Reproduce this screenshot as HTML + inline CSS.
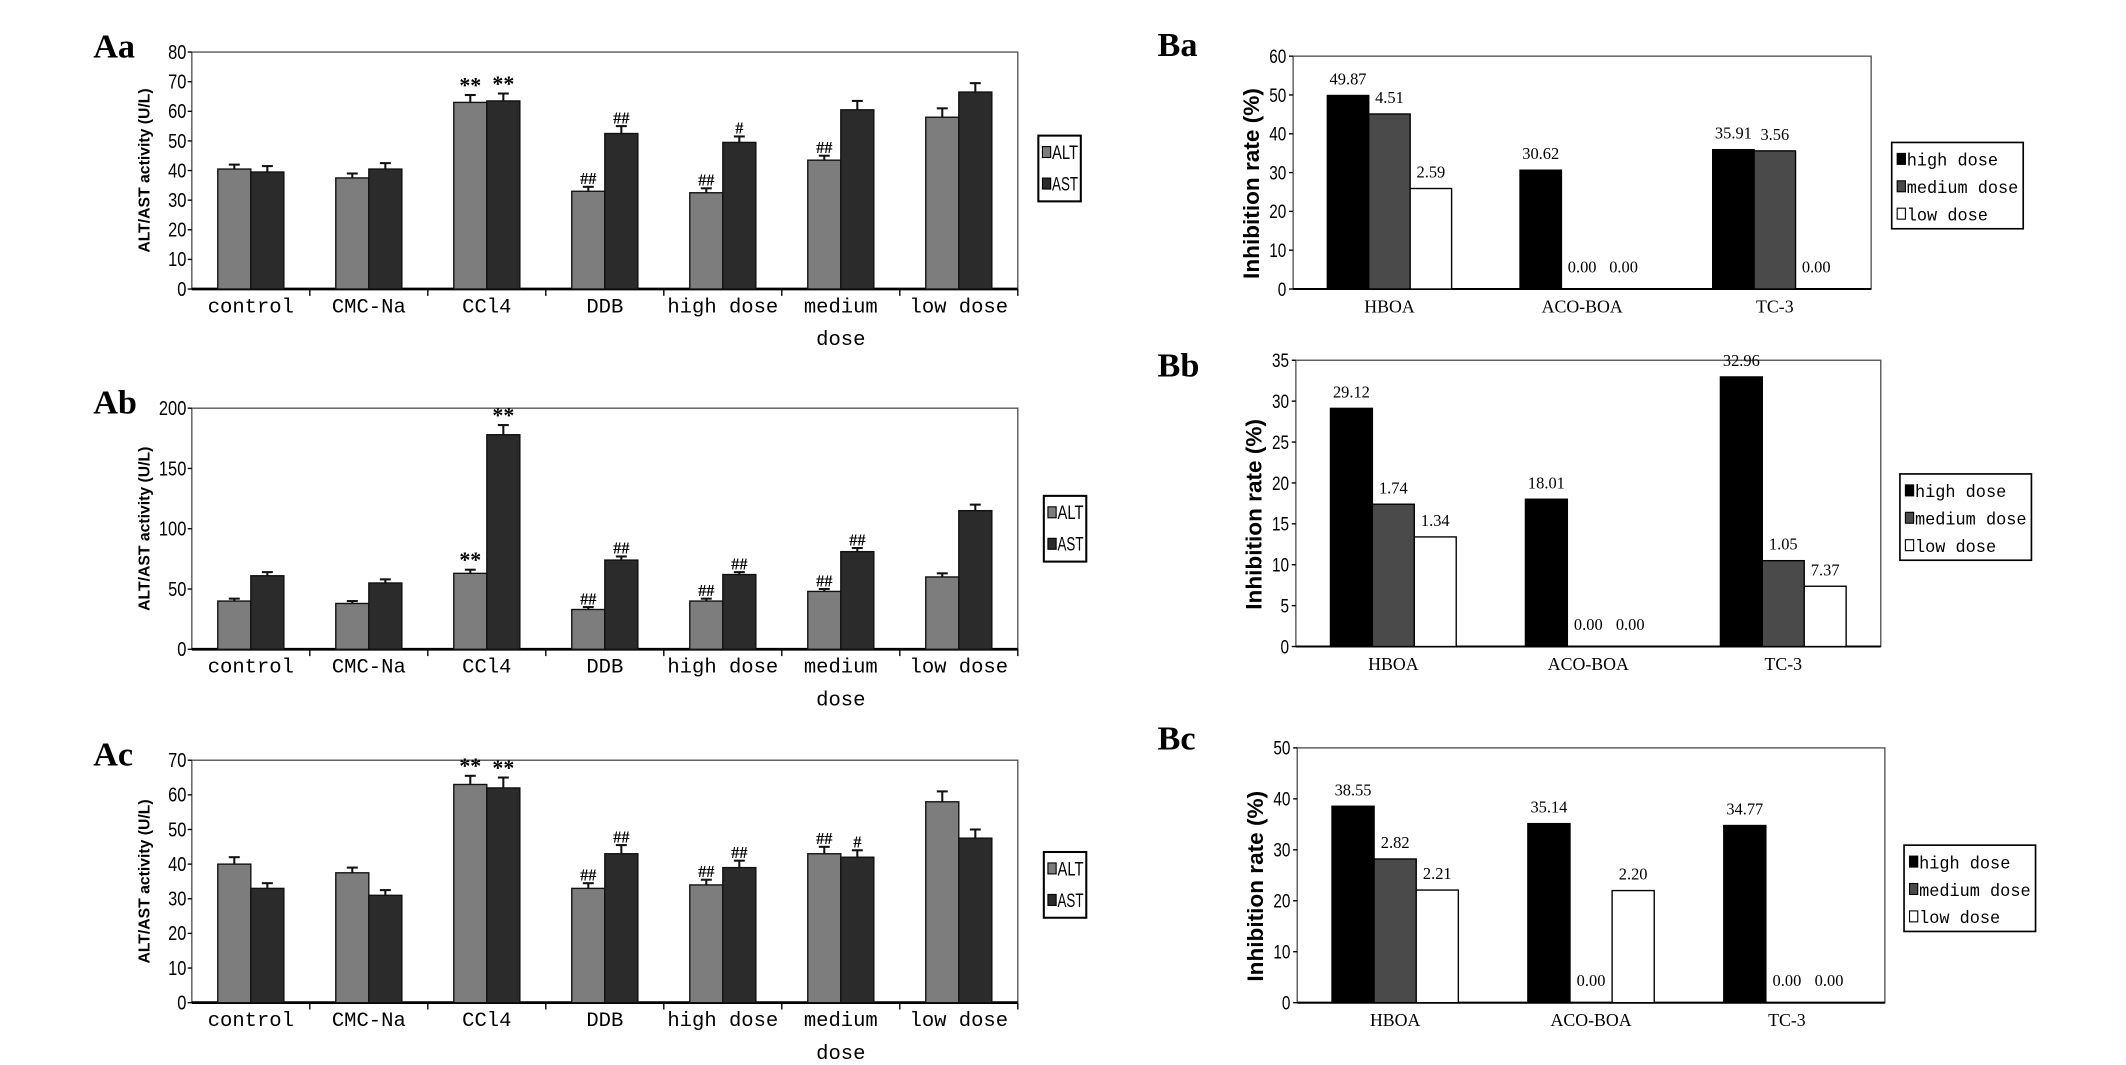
<!DOCTYPE html>
<html><head><meta charset="utf-8">
<style>
html,body{margin:0;padding:0;background:#fff;}
svg{display:block;}
</style></head>
<body>
<svg id="fig" width="2126" height="1065" viewBox="0 0 1552 777.5" font-family="Liberation Mono, DejaVu Sans Mono, monospace" xmlns="http://www.w3.org/2000/svg"></svg>
<script>
// ---- data: panel A (ALT/AST) ----
const aCategories = ["control","CMC-Na","CCl4","DDB","high dose","medium dose","low dose"];
const aaALT = [40.5,37.5,63,33,32.5,43.5,58];
const aaAST = [39.5,40.5,63.5,52.5,49.5,60.5,66.5];
const aaALTerr = [1.5,1.5,2.5,1.5,1.5,1.5,3];
const aaASTerr = [2,2,2.5,2.5,2,3,3];
const aaALTmark = ["","","**","##","##","##",""];
const aaASTmark = ["","","**","##","#","",""];
const aaTicks = [0,10,20,30,40,50,60,70,80];

const abALT = [40,38,63,33,40,48,60];
const abAST = [61,55,178,74,62,81,115];
const abALTerr = [2,2,3,2,2,2,3];
const abASTerr = [3,3,8,3,2,3,5];
const abALTmark = ["","","**","##","##","##",""];
const abASTmark = ["","","**","##","##","##",""];
const abTicks = [0,50,100,150,200];

const acALT = [40,37.5,63,33,34,43,58];
const acAST = [33,31,62,43,39,42,47.5];
const acALTerr = [2,1.5,2.5,1.5,1.5,2,3];
const acASTerr = [1.5,1.5,3,2.5,2,2,2.5];
const acALTmark = ["","","**","##","##","##",""];
const acASTmark = ["","","**","##","##","#",""];
const acTicks = [0,10,20,30,40,50,60,70];

// ---- data: panel B (inhibition rate) ----
const bCategories = ["HBOA","ACO-BOA","TC-3"];
const baHigh = [49.87,30.62,35.91];
const baMed = [45.1,0,35.6];
const baLow = [25.9,0,0];
const baHighLbl = ["49.87","30.62","35.91"];
const baMedLbl = ["4.51","0.00","3.56"];
const baLowLbl = ["2.59","0.00","0.00"];
const baTicks = [0,10,20,30,40,50,60];

const bbHigh = [29.12,18.01,32.96];
const bbMed = [17.4,0,10.5];
const bbLow = [13.4,0,7.37];
const bbHighLbl = ["29.12","18.01","32.96"];
const bbMedLbl = ["1.74","0.00","1.05"];
const bbLowLbl = ["1.34","0.00","7.37"];
const bbTicks = [0,5,10,15,20,25,30,35];

const bcHigh = [38.55,35.14,34.77];
const bcMed = [28.2,0,0];
const bcLow = [22.1,22.0,0];
const bcHighLbl = ["38.55","35.14","34.77"];
const bcMedLbl = ["2.82","0.00","0.00"];
const bcLowLbl = ["2.21","2.20","0.00"];
const bcTicks = [0,10,20,30,40,50];

const NS="http://www.w3.org/2000/svg";
const svg=document.getElementById('fig');
function el(tag,attrs,parent,txt){const e=document.createElementNS(NS,tag);for(const k in attrs)e.setAttribute(k,attrs[k]);if(txt!==undefined)e.textContent=txt;(parent||svg).appendChild(e);return e;}
const NARROW='Liberation Sans Narrow, Liberation Sans, sans-serif';

function panelA(cfg){
  const g=el('g',{});
  
  
  const {x0,x1,y0,y1,max}=cfg;
  const ys=v=>y1-(v/max)*(y1-y0);
  const gw=(x1-x0)/aCategories.length;
  const lab=el('text',{x:68,y:y0+4,'font-family':'Liberation Serif, serif','font-weight':'bold','font-size':25},g,cfg.label);
  
  
  const fr=el('rect',{x:x0,y:y0,width:x1-x0,height:y1-y0,fill:'#fff',stroke:'#555','stroke-width':1},g);
  
  
  cfg.ticks.forEach(t=>{
    const tl=el('text',{x:x0-4,y:ys(t)+5,'text-anchor':'end','font-size':15,'font-family':NARROW,'transform':`translate(${x0-4},0) scale(0.8,1) translate(${-(x0-4)},0)`},g,String(t));
    
    
    el('line',{x1:x0-3,x2:x0,y1:ys(t),y2:ys(t),stroke:'#000'},g);
  });
  const yt=el('text',{x:0,y:0,'text-anchor':'middle','font-family':'Liberation Sans, sans-serif','font-weight':'bold','font-size':11.5,transform:`translate(${x0-31},${(y0+y1)/2}) rotate(-90)`},g,'ALT/AST activity (U/L)');
  
  
  el('line',{x1:x0,x2:x1,y1:y1,y2:y1,stroke:'#000','stroke-width':2},g);
  const bw=gw*0.28;
  aCategories.forEach((c,i)=>{
    const cx=x0+gw*(i+0.5);
    el('line',{x1:x0+gw*(i+1),x2:x0+gw*(i+1),y1:y1,y2:y1+5,stroke:'#000'},g);
    const parts=c==='medium dose'?['medium','dose']:[c];
    parts.forEach((p,k)=>{
      const ct=el('text',{x:cx,y:y1+17+k*24,'text-anchor':'middle','font-size':15},g,p);
      
      
    });
    [[cfg.alt,cfg.altErr,cfg.altMark,'#7d7d7d',cx-bw,'alt'],[cfg.ast,cfg.astErr,cfg.astMark,'#2b2b2b',cx,'ast']].forEach(([vals,errs,marks,col,bx,nm])=>{
      const v=vals[i],top=ys(v),et=ys(v+errs[i]);
      const b=el('rect',{x:bx,y:top,width:bw,height:y1-top,fill:col,stroke:'#111','stroke-width':1},g);
      
      
      el('line',{x1:bx+bw/2,x2:bx+bw/2,y1:top,y2:et,stroke:'#111','stroke-width':1.5},g);
      el('line',{x1:bx+bw/2-4,x2:bx+bw/2+4,y1:et,y2:et,stroke:'#111','stroke-width':1.5},g);
      if(marks[i]){
        const m=el('text',{x:bx+bw/2,y:et-2,'text-anchor':'middle','font-size':marks[i].startsWith('*')?16:12,'font-weight':'bold','font-family':'Liberation Serif, serif'},g,marks[i]);
        
        
      }
    });
  });
  const lg=el('g',{},g);
  
  
  const lx=cfg.lx,ly=cfg.ly;
  el('rect',{x:lx,y:ly,width:31,height:48,fill:'#fff',stroke:'#000','stroke-width':1.5},lg);
  [['ALT','#7d7d7d'],['AST','#2b2b2b']].forEach(([n,c],k)=>{
    el('rect',{x:lx+3,y:ly+8+k*23,width:6,height:8,fill:c,stroke:'#000','stroke-width':0.8},lg);
    const t=el('text',{x:lx+10,y:ly+17+k*23,'font-size':14,'font-family':NARROW,textLength:19,lengthAdjust:'spacingAndGlyphs'},lg,n);
    
    
  });
}

function panelB(cfg){
  const g=el('g',{});
  
  
  const {x0,x1,y0,y1,max}=cfg;
  const ys=v=>y1-(v/max)*(y1-y0);
  const gw=(x1-x0)/bCategories.length;
  const lab=el('text',{x:845,y:cfg.labY,'font-family':'Liberation Serif, serif','font-weight':'bold','font-size':25},g,cfg.label);
  
  
  const fr=el('rect',{x:x0,y:y0,width:x1-x0,height:y1-y0,fill:'#fff',stroke:'#555','stroke-width':1},g);
  
  
  cfg.ticks.forEach(t=>{
    const tl=el('text',{x:x0-5,y:ys(t)+5,'text-anchor':'end','font-size':14,'font-family':NARROW,'transform':`translate(${x0-5},0) scale(0.8,1) translate(${-(x0-5)},0)`},g,String(t));
    
    
    el('line',{x1:x0-3,x2:x0,y1:ys(t),y2:ys(t),stroke:'#000'},g);
  });
  const yt=el('text',{x:0,y:0,'text-anchor':'middle','font-family':'Liberation Sans, sans-serif','font-weight':'bold','font-size':16.5,transform:`translate(${x0-25},${(y0+y1)/2+8}) rotate(-90)`},g,'Inhibition rate (%)');
  
  
  el('line',{x1:x0,x2:x1,y1:y1,y2:y1,stroke:'#000','stroke-width':1.5},g);
  const bw=gw*0.215;
  bCategories.forEach((c,i)=>{
    const cx=x0+gw*(i+0.5);
    const ct=el('text',{x:cx,y:y1+17,'text-anchor':'middle','font-size':13,'font-family':'Liberation Serif, serif'},g,c);
    
    
    [[cfg.high,cfg.highL,'#000'],[cfg.med,cfg.medL,'#4a4a4a'],[cfg.low,cfg.lowL,'#fff']].forEach(([vals,lbls,col],k)=>{
      const bx=cx-1.5*bw+k*bw,v=vals[i],top=ys(v);
      if(v>0){
        const b=el('rect',{x:bx,y:top,width:bw,height:y1-top,fill:col,stroke:'#000','stroke-width':1},g);
        
        
      }
      const vl=el('text',{x:bx+bw/2,y:top-(v>0?8:12),'text-anchor':'middle','font-size':12,'font-family':'Liberation Serif, serif'},g,lbls[i]);
      
      
    });
  });
  const lg=el('g',{},g);
  
  
  const lx=cfg.lx,ly=cfg.ly;
  el('rect',{x:lx,y:ly,width:96,height:63,fill:'#fff',stroke:'#000','stroke-width':1.2},lg);
  [['high dose','#000'],['medium dose','#4a4a4a'],['low dose','#fff']].forEach(([n,c],k)=>{
    el('rect',{x:lx+4,y:ly+8+k*20,width:6,height:8,fill:c,stroke:'#000','stroke-width':0.8},lg);
    const t=el('text',{x:lx+11,y:ly+17+k*20,'font-size':12.5,textLength:n.length*7.4,lengthAdjust:'spacingAndGlyphs'},lg,n);
    
    
  });
}

panelA({id:'aa',label:'Aa',x0:140,x1:743,y0:38,y1:211,max:80,ticks:aaTicks,alt:aaALT,ast:aaAST,altErr:aaALTerr,astErr:aaASTerr,altMark:aaALTmark,astMark:aaASTmark,lx:758,ly:99});
panelA({id:'ab',label:'Ab',x0:140,x1:743,y0:298,y1:474,max:200,ticks:abTicks,alt:abALT,ast:abAST,altErr:abALTerr,astErr:abASTerr,altMark:abALTmark,astMark:abASTmark,lx:762,ly:362});
panelA({id:'ac',label:'Ac',x0:140,x1:743,y0:555,y1:732,max:70,ticks:acTicks,alt:acALT,ast:acAST,altErr:acALTerr,astErr:acASTerr,altMark:acALTmark,astMark:acASTmark,lx:762,ly:622});
panelB({id:'ba',label:'Ba',labY:41,x0:944,x1:1366,y0:41,y1:211,max:60,ticks:baTicks,high:baHigh,med:baMed,low:baLow,highL:baHighLbl,medL:baMedLbl,lowL:baLowLbl,lx:1381,ly:104});
panelB({id:'bb',label:'Bb',labY:275,x0:946,x1:1373,y0:263,y1:472,max:35,ticks:bbTicks,high:bbHigh,med:bbMed,low:bbLow,highL:bbHighLbl,medL:bbMedLbl,lowL:bbLowLbl,lx:1387,ly:346});
panelB({id:'bc',label:'Bc',labY:547,x0:947,x1:1376,y0:546,y1:732,max:50,ticks:bcTicks,high:bcHigh,med:bcMed,low:bcLow,highL:bcHighLbl,medL:bcMedLbl,lowL:bcLowLbl,lx:1390,ly:617});
</script>
</body></html>
